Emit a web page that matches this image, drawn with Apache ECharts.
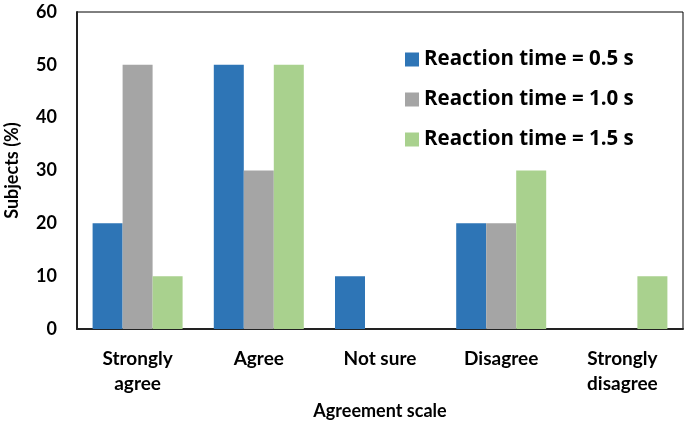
<!DOCTYPE html>
<html><head><meta charset="utf-8">
<script src="https://cdn.jsdelivr.net/npm/echarts@6/dist/echarts.min.js"></script>
<style>html,body{margin:0;padding:0;background:#fff}#c{width:685px;height:426px}</style>
</head><body><div id="c"></div>
<script>
var categories = ['Strongly\nagree', 'Agree', 'Not sure', 'Disagree', 'Strongly\ndisagree'];
var seriesNames = ['Reaction time = 0.5 s', 'Reaction time = 1.0 s', 'Reaction time = 1.5 s'];
var rt05 = [20, 50, 10, 20, 0];
var rt10 = [50, 30, 0, 20, 0];
var rt15 = [10, 50, 0, 30, 10];
var colors = ['#2E75B6', '#A5A5A5', '#A9D18E'];
var font = 'Lato, "Open Sans", sans-serif';
var chart = echarts.init(document.getElementById('c'));
function mk(i, data) {
  return { name: seriesNames[i], type: 'bar', data: data, barWidth: 30, barGap: '0%',
    itemStyle: { color: colors[i] }, emphasis: { disabled: true } };
}
chart.setOption({
  animation: false,
  color: colors,
  grid: { left: 77, top: 12, right: 2, bottom: 97, show: true, borderColor: '#000', borderWidth: 1,
    containLabel: false, outerBoundsMode: 'none' },
  legend: {
    orient: 'vertical', left: 400, top: 44, itemGap: 19, itemWidth: 14, itemHeight: 14,
    icon: 'rect',
    textStyle: { fontFamily: '"Open Sans", sans-serif', fontWeight: 'bold', fontSize: 20.5, color: '#000' },
    data: seriesNames
  },
  xAxis: {
    type: 'category', data: categories,
    name: 'Agreement scale', nameLocation: 'middle', nameGap: 73,
    nameTextStyle: { fontFamily: font, fontWeight: 'bold', fontSize: 18, color: '#000' },
    axisLine: { lineStyle: { color: '#222', width: 2 } },
    axisTick: { show: false },
    axisLabel: { fontFamily: font, fontWeight: 'bold', fontSize: 19, color: '#000', margin: 17, lineHeight: 25, interval: 0 }
  },
  yAxis: {
    type: 'value', min: 0, max: 60, interval: 10,
    name: 'Subjects (%)', nameLocation: 'middle', nameGap: 56, nameRotate: 90,
    nameTextStyle: { fontFamily: font, fontWeight: 'bold', fontSize: 18, color: '#000' },
    axisLine: { show: true, lineStyle: { color: '#222', width: 2 } },
    axisTick: { show: false },
    splitLine: { show: false },
    axisLabel: { fontFamily: font, fontWeight: 'bold', fontSize: 18, color: '#000', margin: 20 }
  },
  series: [mk(0, rt05), mk(1, rt10), mk(2, rt15)]
});
</script></body></html>
